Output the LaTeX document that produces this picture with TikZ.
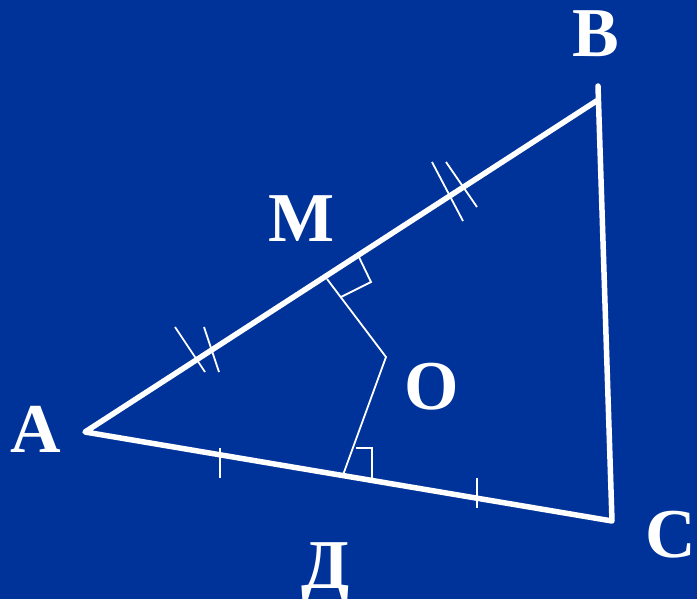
\documentclass[tikz,border=0pt]{standalone}
\usepackage{fontspec}
\setmainfont{Liberation Serif}
\definecolor{bg}{RGB}{0,51,153}
\begin{document}
\begin{tikzpicture}[x=1pt,y=-1pt,
  thick line/.style={white,line width=5.5pt,line cap=round,line join=round},
  thin line/.style={white,line width=1.8pt},
  lab/.style={text=white,anchor=base,inner sep=0pt,font=\fontsize{70}{70}\bfseries\selectfont}]
\fill[bg] (0,0) rectangle (697,599);
\useasboundingbox (0,0) rectangle (697,599);
% vertices
\coordinate (A) at (85,432);
\coordinate (B) at (598,100);
\coordinate (Bt) at (598,86);
\coordinate (C) at (612,521);
\coordinate (M) at (327,279);
\coordinate (O) at (386,357);
\coordinate (H) at (343,475);
% triangle
\draw[thick line] (Bt) -- (C) -- (A) -- (B);
% perpendiculars
\draw[thin line] (M) -- (O) -- (H);
% right angle marks
\coordinate (m1) at (357,253);
\coordinate (m2) at (371,282);
\coordinate (m3) at (341,297);
\draw[thin line] (m1) -- (m2) -- (m3);
\coordinate (h1) at (356,448);
\coordinate (h2) at (372,448);
\coordinate (h3) at (372,478);
\draw[thin line] (h1) -- (h2) -- (h3);
% ticks on AC
\coordinate (t1a) at (220,448); \coordinate (t1b) at (220,478);
\coordinate (t2a) at (477,478); \coordinate (t2b) at (477,508);
\draw[thin line] (t1a) -- (t1b);
\draw[thin line] (t2a) -- (t2b);
% double ticks on AB
\coordinate (d1a) at (175,327); \coordinate (d1b) at (205,372);
\coordinate (d2a) at (204,327); \coordinate (d2b) at (219,372);
\coordinate (d3a) at (432,162); \coordinate (d3b) at (463,221);
\coordinate (d4a) at (446,162); \coordinate (d4b) at (477,207);
\draw[thin line] (d1a) -- (d1b);
\draw[thin line] (d2a) -- (d2b);
\draw[thin line] (d3a) -- (d3b);
\draw[thin line] (d4a) -- (d4b);
% labels
\node[lab] (lB) at (596,57) {B};
\node[lab] (lA) at (36,452) {A};
\node[lab] (lM) at (302,242) {M};
\node[lab] (lO) at (432,409) {O};
\node[lab] (lC) at (671,557) {C};
\node[lab] (lD) at (326,588) {Д};
\end{tikzpicture}
\end{document}
